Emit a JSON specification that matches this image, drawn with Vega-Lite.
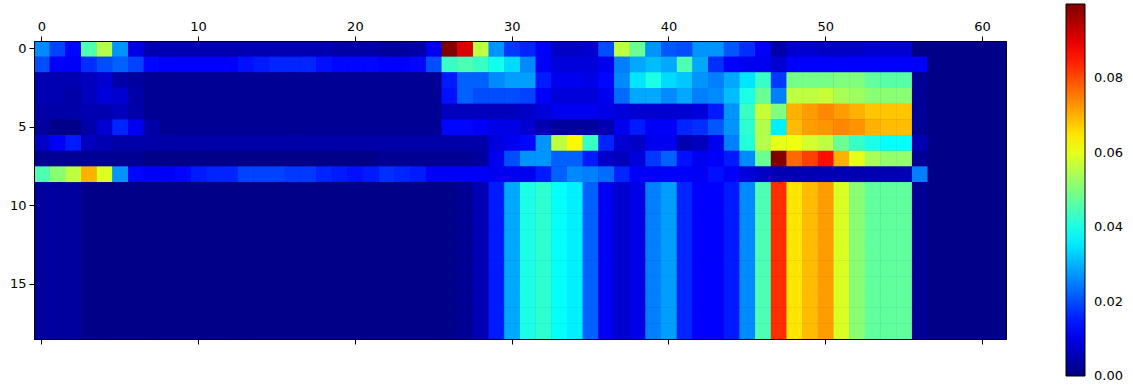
{"$schema":"https://vega.github.io/schema/vega-lite/v6.json","width":972,"height":298,"autosize":{"type":"none"},"padding":{"left":34,"top":41,"right":127,"bottom":46},"background":"white","config":{"view":{"stroke":"black","strokeWidth":1,"fill":"#00007f"},"font":"DejaVu Sans"},
"data":{"values":[
{"c":0,"r":0,"v":0.026},{"c":1,"r":0,"v":0.019},{"c":2,"r":0,"v":0.013},{"c":3,"r":0,"v":0.045},{"c":4,"r":0,"v":0.055},{"c":5,"r":0,"v":0.027},{"c":6,"r":0,"v":0.01},{"c":7,"r":0,"v":0.005},{"c":8,"r":0,"v":0.005},{"c":9,"r":0,"v":0.005},{"c":10,"r":0,"v":0.005},{"c":11,"r":0,"v":0.005},{"c":12,"r":0,"v":0.005},{"c":13,"r":0,"v":0.005},{"c":14,"r":0,"v":0.005},{"c":15,"r":0,"v":0.005},{"c":16,"r":0,"v":0.005},{"c":17,"r":0,"v":0.005},{"c":18,"r":0,"v":0.005},{"c":19,"r":0,"v":0.004},{"c":20,"r":0,"v":0.004},{"c":21,"r":0,"v":0.004},{"c":22,"r":0,"v":0.003},{"c":23,"r":0,"v":0.003},{"c":24,"r":0,"v":0.004},{"c":25,"r":0,"v":0.011},{"c":26,"r":0,"v":0.0995},{"c":27,"r":0,"v":0.091},{"c":28,"r":0,"v":0.056},{"c":29,"r":0,"v":0.027},{"c":30,"r":0,"v":0.018},{"c":31,"r":0,"v":0.016},{"c":32,"r":0,"v":0.012},{"c":33,"r":0,"v":0.007},{"c":34,"r":0,"v":0.007},{"c":35,"r":0,"v":0.008},{"c":36,"r":0,"v":0.02},{"c":37,"r":0,"v":0.056},{"c":38,"r":0,"v":0.048},{"c":39,"r":0,"v":0.027},{"c":40,"r":0,"v":0.021},{"c":41,"r":0,"v":0.02},{"c":42,"r":0,"v":0.027},{"c":43,"r":0,"v":0.027},{"c":44,"r":0,"v":0.021},{"c":45,"r":0,"v":0.017},{"c":46,"r":0,"v":0.012},{"c":47,"r":0,"v":0.004},{"c":48,"r":0,"v":0.008},{"c":49,"r":0,"v":0.008},{"c":50,"r":0,"v":0.007},{"c":51,"r":0,"v":0.007},{"c":52,"r":0,"v":0.007},{"c":53,"r":0,"v":0.008},{"c":54,"r":0,"v":0.008},{"c":55,"r":0,"v":0.008},{"c":56,"r":0,"v":0.001},{"c":57,"r":0,"v":0.001},{"c":58,"r":0,"v":0.001},{"c":59,"r":0,"v":0.001},{"c":60,"r":0,"v":0.001},{"c":61,"r":0,"v":0.001},
{"c":0,"r":1,"v":0.02},{"c":1,"r":1,"v":0.012},{"c":2,"r":1,"v":0.012},{"c":3,"r":1,"v":0.017},{"c":4,"r":1,"v":0.02},{"c":5,"r":1,"v":0.022},{"c":6,"r":1,"v":0.019},{"c":7,"r":1,"v":0.013},{"c":8,"r":1,"v":0.0125},{"c":9,"r":1,"v":0.0125},{"c":10,"r":1,"v":0.0125},{"c":11,"r":1,"v":0.0125},{"c":12,"r":1,"v":0.0125},{"c":13,"r":1,"v":0.014},{"c":14,"r":1,"v":0.015},{"c":15,"r":1,"v":0.016},{"c":16,"r":1,"v":0.016},{"c":17,"r":1,"v":0.016},{"c":18,"r":1,"v":0.014},{"c":19,"r":1,"v":0.013},{"c":20,"r":1,"v":0.013},{"c":21,"r":1,"v":0.013},{"c":22,"r":1,"v":0.0125},{"c":23,"r":1,"v":0.0125},{"c":24,"r":1,"v":0.013},{"c":25,"r":1,"v":0.02},{"c":26,"r":1,"v":0.043},{"c":27,"r":1,"v":0.045},{"c":28,"r":1,"v":0.043},{"c":29,"r":1,"v":0.039},{"c":30,"r":1,"v":0.034},{"c":31,"r":1,"v":0.026},{"c":32,"r":1,"v":0.012},{"c":33,"r":1,"v":0.009},{"c":34,"r":1,"v":0.009},{"c":35,"r":1,"v":0.009},{"c":36,"r":1,"v":0.011},{"c":37,"r":1,"v":0.025},{"c":38,"r":1,"v":0.029},{"c":39,"r":1,"v":0.031},{"c":40,"r":1,"v":0.029},{"c":41,"r":1,"v":0.045},{"c":42,"r":1,"v":0.029},{"c":43,"r":1,"v":0.017},{"c":44,"r":1,"v":0.012},{"c":45,"r":1,"v":0.011},{"c":46,"r":1,"v":0.011},{"c":47,"r":1,"v":0.008},{"c":48,"r":1,"v":0.0125},{"c":49,"r":1,"v":0.0125},{"c":50,"r":1,"v":0.0125},{"c":51,"r":1,"v":0.0125},{"c":52,"r":1,"v":0.0125},{"c":53,"r":1,"v":0.0125},{"c":54,"r":1,"v":0.0125},{"c":55,"r":1,"v":0.0125},{"c":56,"r":1,"v":0.012},{"c":57,"r":1,"v":0.001},{"c":58,"r":1,"v":0.001},{"c":59,"r":1,"v":0.001},{"c":60,"r":1,"v":0.001},{"c":61,"r":1,"v":0.001},
{"c":0,"r":2,"v":0.005},{"c":1,"r":2,"v":0.005},{"c":2,"r":2,"v":0.005},{"c":3,"r":2,"v":0.006},{"c":4,"r":2,"v":0.008},{"c":5,"r":2,"v":0.004},{"c":6,"r":2,"v":0.003},{"c":7,"r":2,"v":0.002},{"c":8,"r":2,"v":0.002},{"c":9,"r":2,"v":0.002},{"c":10,"r":2,"v":0.002},{"c":11,"r":2,"v":0.002},{"c":12,"r":2,"v":0.002},{"c":13,"r":2,"v":0.002},{"c":14,"r":2,"v":0.002},{"c":15,"r":2,"v":0.002},{"c":16,"r":2,"v":0.002},{"c":17,"r":2,"v":0.002},{"c":18,"r":2,"v":0.002},{"c":19,"r":2,"v":0.002},{"c":20,"r":2,"v":0.002},{"c":21,"r":2,"v":0.002},{"c":22,"r":2,"v":0.002},{"c":23,"r":2,"v":0.002},{"c":24,"r":2,"v":0.002},{"c":25,"r":2,"v":0.002},{"c":26,"r":2,"v":0.015},{"c":27,"r":2,"v":0.022},{"c":28,"r":2,"v":0.022},{"c":29,"r":2,"v":0.026},{"c":30,"r":2,"v":0.028},{"c":31,"r":2,"v":0.028},{"c":32,"r":2,"v":0.015},{"c":33,"r":2,"v":0.011},{"c":34,"r":2,"v":0.011},{"c":35,"r":2,"v":0.01},{"c":36,"r":2,"v":0.013},{"c":37,"r":2,"v":0.026},{"c":38,"r":2,"v":0.035},{"c":39,"r":2,"v":0.04},{"c":40,"r":2,"v":0.034},{"c":41,"r":2,"v":0.032},{"c":42,"r":2,"v":0.027},{"c":43,"r":2,"v":0.025},{"c":44,"r":2,"v":0.029},{"c":45,"r":2,"v":0.035},{"c":46,"r":2,"v":0.043},{"c":47,"r":2,"v":0.018},{"c":48,"r":2,"v":0.049},{"c":49,"r":2,"v":0.049},{"c":50,"r":2,"v":0.049},{"c":51,"r":2,"v":0.05},{"c":52,"r":2,"v":0.05},{"c":53,"r":2,"v":0.047},{"c":54,"r":2,"v":0.046},{"c":55,"r":2,"v":0.046},{"c":56,"r":2,"v":0.002},{"c":57,"r":2,"v":0.001},{"c":58,"r":2,"v":0.001},{"c":59,"r":2,"v":0.001},{"c":60,"r":2,"v":0.001},{"c":61,"r":2,"v":0.001},
{"c":0,"r":3,"v":0.005},{"c":1,"r":3,"v":0.005},{"c":2,"r":3,"v":0.004},{"c":3,"r":3,"v":0.006},{"c":4,"r":3,"v":0.009},{"c":5,"r":3,"v":0.008},{"c":6,"r":3,"v":0.004},{"c":7,"r":3,"v":0.002},{"c":8,"r":3,"v":0.002},{"c":9,"r":3,"v":0.002},{"c":10,"r":3,"v":0.002},{"c":11,"r":3,"v":0.002},{"c":12,"r":3,"v":0.002},{"c":13,"r":3,"v":0.002},{"c":14,"r":3,"v":0.002},{"c":15,"r":3,"v":0.002},{"c":16,"r":3,"v":0.002},{"c":17,"r":3,"v":0.002},{"c":18,"r":3,"v":0.002},{"c":19,"r":3,"v":0.002},{"c":20,"r":3,"v":0.002},{"c":21,"r":3,"v":0.002},{"c":22,"r":3,"v":0.002},{"c":23,"r":3,"v":0.002},{"c":24,"r":3,"v":0.002},{"c":25,"r":3,"v":0.002},{"c":26,"r":3,"v":0.014},{"c":27,"r":3,"v":0.022},{"c":28,"r":3,"v":0.02},{"c":29,"r":3,"v":0.02},{"c":30,"r":3,"v":0.02},{"c":31,"r":3,"v":0.019},{"c":32,"r":3,"v":0.012},{"c":33,"r":3,"v":0.009},{"c":34,"r":3,"v":0.009},{"c":35,"r":3,"v":0.009},{"c":36,"r":3,"v":0.011},{"c":37,"r":3,"v":0.023},{"c":38,"r":3,"v":0.029},{"c":39,"r":3,"v":0.029},{"c":40,"r":3,"v":0.026},{"c":41,"r":3,"v":0.029},{"c":42,"r":3,"v":0.025},{"c":43,"r":3,"v":0.026},{"c":44,"r":3,"v":0.031},{"c":45,"r":3,"v":0.04},{"c":46,"r":3,"v":0.048},{"c":47,"r":3,"v":0.025},{"c":48,"r":3,"v":0.056},{"c":49,"r":3,"v":0.056},{"c":50,"r":3,"v":0.057},{"c":51,"r":3,"v":0.054},{"c":52,"r":3,"v":0.053},{"c":53,"r":3,"v":0.051},{"c":54,"r":3,"v":0.051},{"c":55,"r":3,"v":0.051},{"c":56,"r":3,"v":0.002},{"c":57,"r":3,"v":0.001},{"c":58,"r":3,"v":0.001},{"c":59,"r":3,"v":0.001},{"c":60,"r":3,"v":0.001},{"c":61,"r":3,"v":0.001},
{"c":0,"r":4,"v":0.004},{"c":1,"r":4,"v":0.004},{"c":2,"r":4,"v":0.004},{"c":3,"r":4,"v":0.005},{"c":4,"r":4,"v":0.005},{"c":5,"r":4,"v":0.006},{"c":6,"r":4,"v":0.004},{"c":7,"r":4,"v":0.002},{"c":8,"r":4,"v":0.002},{"c":9,"r":4,"v":0.002},{"c":10,"r":4,"v":0.002},{"c":11,"r":4,"v":0.002},{"c":12,"r":4,"v":0.002},{"c":13,"r":4,"v":0.002},{"c":14,"r":4,"v":0.002},{"c":15,"r":4,"v":0.002},{"c":16,"r":4,"v":0.002},{"c":17,"r":4,"v":0.002},{"c":18,"r":4,"v":0.002},{"c":19,"r":4,"v":0.002},{"c":20,"r":4,"v":0.002},{"c":21,"r":4,"v":0.002},{"c":22,"r":4,"v":0.002},{"c":23,"r":4,"v":0.002},{"c":24,"r":4,"v":0.002},{"c":25,"r":4,"v":0.002},{"c":26,"r":4,"v":0.006},{"c":27,"r":4,"v":0.006},{"c":28,"r":4,"v":0.006},{"c":29,"r":4,"v":0.006},{"c":30,"r":4,"v":0.006},{"c":31,"r":4,"v":0.007},{"c":32,"r":4,"v":0.009},{"c":33,"r":4,"v":0.011},{"c":34,"r":4,"v":0.011},{"c":35,"r":4,"v":0.011},{"c":36,"r":4,"v":0.01},{"c":37,"r":4,"v":0.009},{"c":38,"r":4,"v":0.008},{"c":39,"r":4,"v":0.008},{"c":40,"r":4,"v":0.008},{"c":41,"r":4,"v":0.008},{"c":42,"r":4,"v":0.009},{"c":43,"r":4,"v":0.015},{"c":44,"r":4,"v":0.027},{"c":45,"r":4,"v":0.043},{"c":46,"r":4,"v":0.057},{"c":47,"r":4,"v":0.05},{"c":48,"r":4,"v":0.07},{"c":49,"r":4,"v":0.072},{"c":50,"r":4,"v":0.074},{"c":51,"r":4,"v":0.072},{"c":52,"r":4,"v":0.07},{"c":53,"r":4,"v":0.068},{"c":54,"r":4,"v":0.068},{"c":55,"r":4,"v":0.068},{"c":56,"r":4,"v":0.002},{"c":57,"r":4,"v":0.001},{"c":58,"r":4,"v":0.001},{"c":59,"r":4,"v":0.001},{"c":60,"r":4,"v":0.001},{"c":61,"r":4,"v":0.001},
{"c":0,"r":5,"v":0.003},{"c":1,"r":5,"v":0.001},{"c":2,"r":5,"v":0.001},{"c":3,"r":5,"v":0.004},{"c":4,"r":5,"v":0.008},{"c":5,"r":5,"v":0.016},{"c":6,"r":5,"v":0.011},{"c":7,"r":5,"v":0.004},{"c":8,"r":5,"v":0.002},{"c":9,"r":5,"v":0.002},{"c":10,"r":5,"v":0.002},{"c":11,"r":5,"v":0.002},{"c":12,"r":5,"v":0.002},{"c":13,"r":5,"v":0.002},{"c":14,"r":5,"v":0.002},{"c":15,"r":5,"v":0.002},{"c":16,"r":5,"v":0.002},{"c":17,"r":5,"v":0.002},{"c":18,"r":5,"v":0.002},{"c":19,"r":5,"v":0.002},{"c":20,"r":5,"v":0.002},{"c":21,"r":5,"v":0.002},{"c":22,"r":5,"v":0.002},{"c":23,"r":5,"v":0.002},{"c":24,"r":5,"v":0.002},{"c":25,"r":5,"v":0.002},{"c":26,"r":5,"v":0.013},{"c":27,"r":5,"v":0.013},{"c":28,"r":5,"v":0.012},{"c":29,"r":5,"v":0.01},{"c":30,"r":5,"v":0.01},{"c":31,"r":5,"v":0.008},{"c":32,"r":5,"v":0.005},{"c":33,"r":5,"v":0.003},{"c":34,"r":5,"v":0.003},{"c":35,"r":5,"v":0.003},{"c":36,"r":5,"v":0.005},{"c":37,"r":5,"v":0.011},{"c":38,"r":5,"v":0.015},{"c":39,"r":5,"v":0.012},{"c":40,"r":5,"v":0.012},{"c":41,"r":5,"v":0.016},{"c":42,"r":5,"v":0.017},{"c":43,"r":5,"v":0.021},{"c":44,"r":5,"v":0.027},{"c":45,"r":5,"v":0.042},{"c":46,"r":5,"v":0.055},{"c":47,"r":5,"v":0.036},{"c":48,"r":5,"v":0.069},{"c":49,"r":5,"v":0.072},{"c":50,"r":5,"v":0.073},{"c":51,"r":5,"v":0.074},{"c":52,"r":5,"v":0.073},{"c":53,"r":5,"v":0.07},{"c":54,"r":5,"v":0.069},{"c":55,"r":5,"v":0.069},{"c":56,"r":5,"v":0.002},{"c":57,"r":5,"v":0.001},{"c":58,"r":5,"v":0.001},{"c":59,"r":5,"v":0.001},{"c":60,"r":5,"v":0.001},{"c":61,"r":5,"v":0.001},
{"c":0,"r":6,"v":0.007},{"c":1,"r":6,"v":0.012},{"c":2,"r":6,"v":0.015},{"c":3,"r":6,"v":0.006},{"c":4,"r":6,"v":0.005},{"c":5,"r":6,"v":0.004},{"c":6,"r":6,"v":0.004},{"c":7,"r":6,"v":0.004},{"c":8,"r":6,"v":0.004},{"c":9,"r":6,"v":0.004},{"c":10,"r":6,"v":0.004},{"c":11,"r":6,"v":0.004},{"c":12,"r":6,"v":0.004},{"c":13,"r":6,"v":0.004},{"c":14,"r":6,"v":0.004},{"c":15,"r":6,"v":0.004},{"c":16,"r":6,"v":0.004},{"c":17,"r":6,"v":0.004},{"c":18,"r":6,"v":0.004},{"c":19,"r":6,"v":0.004},{"c":20,"r":6,"v":0.004},{"c":21,"r":6,"v":0.004},{"c":22,"r":6,"v":0.004},{"c":23,"r":6,"v":0.004},{"c":24,"r":6,"v":0.004},{"c":25,"r":6,"v":0.004},{"c":26,"r":6,"v":0.004},{"c":27,"r":6,"v":0.004},{"c":28,"r":6,"v":0.004},{"c":29,"r":6,"v":0.009},{"c":30,"r":6,"v":0.011},{"c":31,"r":6,"v":0.013},{"c":32,"r":6,"v":0.027},{"c":33,"r":6,"v":0.056},{"c":34,"r":6,"v":0.063},{"c":35,"r":6,"v":0.043},{"c":36,"r":6,"v":0.016},{"c":37,"r":6,"v":0.008},{"c":38,"r":6,"v":0.007},{"c":39,"r":6,"v":0.011},{"c":40,"r":6,"v":0.011},{"c":41,"r":6,"v":0.005},{"c":42,"r":6,"v":0.006},{"c":43,"r":6,"v":0.011},{"c":44,"r":6,"v":0.025},{"c":45,"r":6,"v":0.041},{"c":46,"r":6,"v":0.055},{"c":47,"r":6,"v":0.06},{"c":48,"r":6,"v":0.061},{"c":49,"r":6,"v":0.058},{"c":50,"r":6,"v":0.056},{"c":51,"r":6,"v":0.048},{"c":52,"r":6,"v":0.043},{"c":53,"r":6,"v":0.04},{"c":54,"r":6,"v":0.038},{"c":55,"r":6,"v":0.038},{"c":56,"r":6,"v":0.005},{"c":57,"r":6,"v":0.001},{"c":58,"r":6,"v":0.001},{"c":59,"r":6,"v":0.001},{"c":60,"r":6,"v":0.001},{"c":61,"r":6,"v":0.001},
{"c":0,"r":7,"v":0.002},{"c":1,"r":7,"v":0.002},{"c":2,"r":7,"v":0.002},{"c":3,"r":7,"v":0.002},{"c":4,"r":7,"v":0.002},{"c":5,"r":7,"v":0.002},{"c":6,"r":7,"v":0.002},{"c":7,"r":7,"v":0.001},{"c":8,"r":7,"v":0.001},{"c":9,"r":7,"v":0.001},{"c":10,"r":7,"v":0.001},{"c":11,"r":7,"v":0.001},{"c":12,"r":7,"v":0.001},{"c":13,"r":7,"v":0.001},{"c":14,"r":7,"v":0.001},{"c":15,"r":7,"v":0.001},{"c":16,"r":7,"v":0.001},{"c":17,"r":7,"v":0.001},{"c":18,"r":7,"v":0.001},{"c":19,"r":7,"v":0.001},{"c":20,"r":7,"v":0.001},{"c":21,"r":7,"v":0.001},{"c":22,"r":7,"v":0.002},{"c":23,"r":7,"v":0.002},{"c":24,"r":7,"v":0.002},{"c":25,"r":7,"v":0.002},{"c":26,"r":7,"v":0.002},{"c":27,"r":7,"v":0.002},{"c":28,"r":7,"v":0.003},{"c":29,"r":7,"v":0.011},{"c":30,"r":7,"v":0.02},{"c":31,"r":7,"v":0.027},{"c":32,"r":7,"v":0.027},{"c":33,"r":7,"v":0.022},{"c":34,"r":7,"v":0.022},{"c":35,"r":7,"v":0.015},{"c":36,"r":7,"v":0.007},{"c":37,"r":7,"v":0.006},{"c":38,"r":7,"v":0.009},{"c":39,"r":7,"v":0.018},{"c":40,"r":7,"v":0.022},{"c":41,"r":7,"v":0.014},{"c":42,"r":7,"v":0.011},{"c":43,"r":7,"v":0.012},{"c":44,"r":7,"v":0.015},{"c":45,"r":7,"v":0.026},{"c":46,"r":7,"v":0.048},{"c":47,"r":7,"v":0.0995},{"c":48,"r":7,"v":0.077},{"c":49,"r":7,"v":0.081},{"c":50,"r":7,"v":0.086},{"c":51,"r":7,"v":0.07},{"c":52,"r":7,"v":0.06},{"c":53,"r":7,"v":0.054},{"c":54,"r":7,"v":0.052},{"c":55,"r":7,"v":0.052},{"c":56,"r":7,"v":0.002},{"c":57,"r":7,"v":0.001},{"c":58,"r":7,"v":0.001},{"c":59,"r":7,"v":0.001},{"c":60,"r":7,"v":0.001},{"c":61,"r":7,"v":0.001},
{"c":0,"r":8,"v":0.045},{"c":1,"r":8,"v":0.051},{"c":2,"r":8,"v":0.056},{"c":3,"r":8,"v":0.07},{"c":4,"r":8,"v":0.059},{"c":5,"r":8,"v":0.027},{"c":6,"r":8,"v":0.013},{"c":7,"r":8,"v":0.012},{"c":8,"r":8,"v":0.012},{"c":9,"r":8,"v":0.013},{"c":10,"r":8,"v":0.015},{"c":11,"r":8,"v":0.016},{"c":12,"r":8,"v":0.016},{"c":13,"r":8,"v":0.019},{"c":14,"r":8,"v":0.019},{"c":15,"r":8,"v":0.019},{"c":16,"r":8,"v":0.018},{"c":17,"r":8,"v":0.018},{"c":18,"r":8,"v":0.016},{"c":19,"r":8,"v":0.015},{"c":20,"r":8,"v":0.014},{"c":21,"r":8,"v":0.015},{"c":22,"r":8,"v":0.017},{"c":23,"r":8,"v":0.016},{"c":24,"r":8,"v":0.015},{"c":25,"r":8,"v":0.012},{"c":26,"r":8,"v":0.012},{"c":27,"r":8,"v":0.012},{"c":28,"r":8,"v":0.012},{"c":29,"r":8,"v":0.011},{"c":30,"r":8,"v":0.011},{"c":31,"r":8,"v":0.011},{"c":32,"r":8,"v":0.015},{"c":33,"r":8,"v":0.022},{"c":34,"r":8,"v":0.026},{"c":35,"r":8,"v":0.025},{"c":36,"r":8,"v":0.023},{"c":37,"r":8,"v":0.016},{"c":38,"r":8,"v":0.012},{"c":39,"r":8,"v":0.012},{"c":40,"r":8,"v":0.012},{"c":41,"r":8,"v":0.012},{"c":42,"r":8,"v":0.012},{"c":43,"r":8,"v":0.014},{"c":44,"r":8,"v":0.012},{"c":45,"r":8,"v":0.009},{"c":46,"r":8,"v":0.007},{"c":47,"r":8,"v":0.005},{"c":48,"r":8,"v":0.005},{"c":49,"r":8,"v":0.005},{"c":50,"r":8,"v":0.005},{"c":51,"r":8,"v":0.005},{"c":52,"r":8,"v":0.005},{"c":53,"r":8,"v":0.005},{"c":54,"r":8,"v":0.005},{"c":55,"r":8,"v":0.005},{"c":56,"r":8,"v":0.025},{"c":57,"r":8,"v":0.001},{"c":58,"r":8,"v":0.001},{"c":59,"r":8,"v":0.001},{"c":60,"r":8,"v":0.001},{"c":61,"r":8,"v":0.001},
{"c":0,"r":9,"v":0.003},{"c":1,"r":9,"v":0.003},{"c":2,"r":9,"v":0.003},{"c":3,"r":9,"v":0.001},{"c":4,"r":9,"v":0.001},{"c":5,"r":9,"v":0.001},{"c":6,"r":9,"v":0.001},{"c":7,"r":9,"v":0.001},{"c":8,"r":9,"v":0.001},{"c":9,"r":9,"v":0.001},{"c":10,"r":9,"v":0.001},{"c":11,"r":9,"v":0.001},{"c":12,"r":9,"v":0.001},{"c":13,"r":9,"v":0.001},{"c":14,"r":9,"v":0.001},{"c":15,"r":9,"v":0.001},{"c":16,"r":9,"v":0.001},{"c":17,"r":9,"v":0.001},{"c":18,"r":9,"v":0.001},{"c":19,"r":9,"v":0.001},{"c":20,"r":9,"v":0.001},{"c":21,"r":9,"v":0.001},{"c":22,"r":9,"v":0.001},{"c":23,"r":9,"v":0.001},{"c":24,"r":9,"v":0.001},{"c":25,"r":9,"v":0.001},{"c":26,"r":9,"v":0.001},{"c":27,"r":9,"v":0.002},{"c":28,"r":9,"v":0.005},{"c":29,"r":9,"v":0.015},{"c":30,"r":9,"v":0.029},{"c":31,"r":9,"v":0.04},{"c":32,"r":9,"v":0.042},{"c":33,"r":9,"v":0.038},{"c":34,"r":9,"v":0.036},{"c":35,"r":9,"v":0.022},{"c":36,"r":9,"v":0.011},{"c":37,"r":9,"v":0.008},{"c":38,"r":9,"v":0.01},{"c":39,"r":9,"v":0.025},{"c":40,"r":9,"v":0.028},{"c":41,"r":9,"v":0.016},{"c":42,"r":9,"v":0.0125},{"c":43,"r":9,"v":0.0125},{"c":44,"r":9,"v":0.015},{"c":45,"r":9,"v":0.026},{"c":46,"r":9,"v":0.045},{"c":47,"r":9,"v":0.083},{"c":48,"r":9,"v":0.065},{"c":49,"r":9,"v":0.069},{"c":50,"r":9,"v":0.072},{"c":51,"r":9,"v":0.059},{"c":52,"r":9,"v":0.051},{"c":53,"r":9,"v":0.047},{"c":54,"r":9,"v":0.047},{"c":55,"r":9,"v":0.047},{"c":56,"r":9,"v":0.002},{"c":57,"r":9,"v":0.001},{"c":58,"r":9,"v":0.001},{"c":59,"r":9,"v":0.001},{"c":60,"r":9,"v":0.001},{"c":61,"r":9,"v":0.001},
{"c":0,"r":10,"v":0.003},{"c":1,"r":10,"v":0.003},{"c":2,"r":10,"v":0.003},{"c":3,"r":10,"v":0.001},{"c":4,"r":10,"v":0.001},{"c":5,"r":10,"v":0.001},{"c":6,"r":10,"v":0.001},{"c":7,"r":10,"v":0.001},{"c":8,"r":10,"v":0.001},{"c":9,"r":10,"v":0.001},{"c":10,"r":10,"v":0.001},{"c":11,"r":10,"v":0.001},{"c":12,"r":10,"v":0.001},{"c":13,"r":10,"v":0.001},{"c":14,"r":10,"v":0.001},{"c":15,"r":10,"v":0.001},{"c":16,"r":10,"v":0.001},{"c":17,"r":10,"v":0.001},{"c":18,"r":10,"v":0.001},{"c":19,"r":10,"v":0.001},{"c":20,"r":10,"v":0.001},{"c":21,"r":10,"v":0.001},{"c":22,"r":10,"v":0.001},{"c":23,"r":10,"v":0.001},{"c":24,"r":10,"v":0.001},{"c":25,"r":10,"v":0.001},{"c":26,"r":10,"v":0.001},{"c":27,"r":10,"v":0.002},{"c":28,"r":10,"v":0.005},{"c":29,"r":10,"v":0.015},{"c":30,"r":10,"v":0.029},{"c":31,"r":10,"v":0.04},{"c":32,"r":10,"v":0.042},{"c":33,"r":10,"v":0.038},{"c":34,"r":10,"v":0.036},{"c":35,"r":10,"v":0.022},{"c":36,"r":10,"v":0.011},{"c":37,"r":10,"v":0.008},{"c":38,"r":10,"v":0.01},{"c":39,"r":10,"v":0.025},{"c":40,"r":10,"v":0.028},{"c":41,"r":10,"v":0.016},{"c":42,"r":10,"v":0.0125},{"c":43,"r":10,"v":0.0125},{"c":44,"r":10,"v":0.015},{"c":45,"r":10,"v":0.026},{"c":46,"r":10,"v":0.045},{"c":47,"r":10,"v":0.083},{"c":48,"r":10,"v":0.065},{"c":49,"r":10,"v":0.069},{"c":50,"r":10,"v":0.072},{"c":51,"r":10,"v":0.059},{"c":52,"r":10,"v":0.051},{"c":53,"r":10,"v":0.047},{"c":54,"r":10,"v":0.047},{"c":55,"r":10,"v":0.047},{"c":56,"r":10,"v":0.002},{"c":57,"r":10,"v":0.001},{"c":58,"r":10,"v":0.001},{"c":59,"r":10,"v":0.001},{"c":60,"r":10,"v":0.001},{"c":61,"r":10,"v":0.001},
{"c":0,"r":11,"v":0.003},{"c":1,"r":11,"v":0.003},{"c":2,"r":11,"v":0.003},{"c":3,"r":11,"v":0.001},{"c":4,"r":11,"v":0.001},{"c":5,"r":11,"v":0.001},{"c":6,"r":11,"v":0.001},{"c":7,"r":11,"v":0.001},{"c":8,"r":11,"v":0.001},{"c":9,"r":11,"v":0.001},{"c":10,"r":11,"v":0.001},{"c":11,"r":11,"v":0.001},{"c":12,"r":11,"v":0.001},{"c":13,"r":11,"v":0.001},{"c":14,"r":11,"v":0.001},{"c":15,"r":11,"v":0.001},{"c":16,"r":11,"v":0.001},{"c":17,"r":11,"v":0.001},{"c":18,"r":11,"v":0.001},{"c":19,"r":11,"v":0.001},{"c":20,"r":11,"v":0.001},{"c":21,"r":11,"v":0.001},{"c":22,"r":11,"v":0.001},{"c":23,"r":11,"v":0.001},{"c":24,"r":11,"v":0.001},{"c":25,"r":11,"v":0.001},{"c":26,"r":11,"v":0.001},{"c":27,"r":11,"v":0.002},{"c":28,"r":11,"v":0.005},{"c":29,"r":11,"v":0.015},{"c":30,"r":11,"v":0.029},{"c":31,"r":11,"v":0.04},{"c":32,"r":11,"v":0.042},{"c":33,"r":11,"v":0.038},{"c":34,"r":11,"v":0.036},{"c":35,"r":11,"v":0.022},{"c":36,"r":11,"v":0.011},{"c":37,"r":11,"v":0.008},{"c":38,"r":11,"v":0.01},{"c":39,"r":11,"v":0.025},{"c":40,"r":11,"v":0.028},{"c":41,"r":11,"v":0.016},{"c":42,"r":11,"v":0.0125},{"c":43,"r":11,"v":0.0125},{"c":44,"r":11,"v":0.015},{"c":45,"r":11,"v":0.026},{"c":46,"r":11,"v":0.045},{"c":47,"r":11,"v":0.083},{"c":48,"r":11,"v":0.065},{"c":49,"r":11,"v":0.069},{"c":50,"r":11,"v":0.072},{"c":51,"r":11,"v":0.059},{"c":52,"r":11,"v":0.051},{"c":53,"r":11,"v":0.047},{"c":54,"r":11,"v":0.047},{"c":55,"r":11,"v":0.047},{"c":56,"r":11,"v":0.002},{"c":57,"r":11,"v":0.001},{"c":58,"r":11,"v":0.001},{"c":59,"r":11,"v":0.001},{"c":60,"r":11,"v":0.001},{"c":61,"r":11,"v":0.001},
{"c":0,"r":12,"v":0.003},{"c":1,"r":12,"v":0.003},{"c":2,"r":12,"v":0.003},{"c":3,"r":12,"v":0.001},{"c":4,"r":12,"v":0.001},{"c":5,"r":12,"v":0.001},{"c":6,"r":12,"v":0.001},{"c":7,"r":12,"v":0.001},{"c":8,"r":12,"v":0.001},{"c":9,"r":12,"v":0.001},{"c":10,"r":12,"v":0.001},{"c":11,"r":12,"v":0.001},{"c":12,"r":12,"v":0.001},{"c":13,"r":12,"v":0.001},{"c":14,"r":12,"v":0.001},{"c":15,"r":12,"v":0.001},{"c":16,"r":12,"v":0.001},{"c":17,"r":12,"v":0.001},{"c":18,"r":12,"v":0.001},{"c":19,"r":12,"v":0.001},{"c":20,"r":12,"v":0.001},{"c":21,"r":12,"v":0.001},{"c":22,"r":12,"v":0.001},{"c":23,"r":12,"v":0.001},{"c":24,"r":12,"v":0.001},{"c":25,"r":12,"v":0.001},{"c":26,"r":12,"v":0.001},{"c":27,"r":12,"v":0.002},{"c":28,"r":12,"v":0.005},{"c":29,"r":12,"v":0.015},{"c":30,"r":12,"v":0.029},{"c":31,"r":12,"v":0.04},{"c":32,"r":12,"v":0.042},{"c":33,"r":12,"v":0.038},{"c":34,"r":12,"v":0.036},{"c":35,"r":12,"v":0.022},{"c":36,"r":12,"v":0.011},{"c":37,"r":12,"v":0.008},{"c":38,"r":12,"v":0.01},{"c":39,"r":12,"v":0.025},{"c":40,"r":12,"v":0.028},{"c":41,"r":12,"v":0.016},{"c":42,"r":12,"v":0.0125},{"c":43,"r":12,"v":0.0125},{"c":44,"r":12,"v":0.015},{"c":45,"r":12,"v":0.026},{"c":46,"r":12,"v":0.045},{"c":47,"r":12,"v":0.083},{"c":48,"r":12,"v":0.065},{"c":49,"r":12,"v":0.069},{"c":50,"r":12,"v":0.072},{"c":51,"r":12,"v":0.059},{"c":52,"r":12,"v":0.051},{"c":53,"r":12,"v":0.047},{"c":54,"r":12,"v":0.047},{"c":55,"r":12,"v":0.047},{"c":56,"r":12,"v":0.002},{"c":57,"r":12,"v":0.001},{"c":58,"r":12,"v":0.001},{"c":59,"r":12,"v":0.001},{"c":60,"r":12,"v":0.001},{"c":61,"r":12,"v":0.001},
{"c":0,"r":13,"v":0.003},{"c":1,"r":13,"v":0.003},{"c":2,"r":13,"v":0.003},{"c":3,"r":13,"v":0.001},{"c":4,"r":13,"v":0.001},{"c":5,"r":13,"v":0.001},{"c":6,"r":13,"v":0.001},{"c":7,"r":13,"v":0.001},{"c":8,"r":13,"v":0.001},{"c":9,"r":13,"v":0.001},{"c":10,"r":13,"v":0.001},{"c":11,"r":13,"v":0.001},{"c":12,"r":13,"v":0.001},{"c":13,"r":13,"v":0.001},{"c":14,"r":13,"v":0.001},{"c":15,"r":13,"v":0.001},{"c":16,"r":13,"v":0.001},{"c":17,"r":13,"v":0.001},{"c":18,"r":13,"v":0.001},{"c":19,"r":13,"v":0.001},{"c":20,"r":13,"v":0.001},{"c":21,"r":13,"v":0.001},{"c":22,"r":13,"v":0.001},{"c":23,"r":13,"v":0.001},{"c":24,"r":13,"v":0.001},{"c":25,"r":13,"v":0.001},{"c":26,"r":13,"v":0.001},{"c":27,"r":13,"v":0.002},{"c":28,"r":13,"v":0.005},{"c":29,"r":13,"v":0.015},{"c":30,"r":13,"v":0.029},{"c":31,"r":13,"v":0.04},{"c":32,"r":13,"v":0.042},{"c":33,"r":13,"v":0.038},{"c":34,"r":13,"v":0.036},{"c":35,"r":13,"v":0.022},{"c":36,"r":13,"v":0.011},{"c":37,"r":13,"v":0.008},{"c":38,"r":13,"v":0.01},{"c":39,"r":13,"v":0.025},{"c":40,"r":13,"v":0.028},{"c":41,"r":13,"v":0.016},{"c":42,"r":13,"v":0.0125},{"c":43,"r":13,"v":0.0125},{"c":44,"r":13,"v":0.015},{"c":45,"r":13,"v":0.026},{"c":46,"r":13,"v":0.045},{"c":47,"r":13,"v":0.083},{"c":48,"r":13,"v":0.065},{"c":49,"r":13,"v":0.069},{"c":50,"r":13,"v":0.072},{"c":51,"r":13,"v":0.059},{"c":52,"r":13,"v":0.051},{"c":53,"r":13,"v":0.047},{"c":54,"r":13,"v":0.047},{"c":55,"r":13,"v":0.047},{"c":56,"r":13,"v":0.002},{"c":57,"r":13,"v":0.001},{"c":58,"r":13,"v":0.001},{"c":59,"r":13,"v":0.001},{"c":60,"r":13,"v":0.001},{"c":61,"r":13,"v":0.001},
{"c":0,"r":14,"v":0.003},{"c":1,"r":14,"v":0.003},{"c":2,"r":14,"v":0.003},{"c":3,"r":14,"v":0.001},{"c":4,"r":14,"v":0.001},{"c":5,"r":14,"v":0.001},{"c":6,"r":14,"v":0.001},{"c":7,"r":14,"v":0.001},{"c":8,"r":14,"v":0.001},{"c":9,"r":14,"v":0.001},{"c":10,"r":14,"v":0.001},{"c":11,"r":14,"v":0.001},{"c":12,"r":14,"v":0.001},{"c":13,"r":14,"v":0.001},{"c":14,"r":14,"v":0.001},{"c":15,"r":14,"v":0.001},{"c":16,"r":14,"v":0.001},{"c":17,"r":14,"v":0.001},{"c":18,"r":14,"v":0.001},{"c":19,"r":14,"v":0.001},{"c":20,"r":14,"v":0.001},{"c":21,"r":14,"v":0.001},{"c":22,"r":14,"v":0.001},{"c":23,"r":14,"v":0.001},{"c":24,"r":14,"v":0.001},{"c":25,"r":14,"v":0.001},{"c":26,"r":14,"v":0.001},{"c":27,"r":14,"v":0.002},{"c":28,"r":14,"v":0.005},{"c":29,"r":14,"v":0.015},{"c":30,"r":14,"v":0.029},{"c":31,"r":14,"v":0.04},{"c":32,"r":14,"v":0.042},{"c":33,"r":14,"v":0.038},{"c":34,"r":14,"v":0.036},{"c":35,"r":14,"v":0.022},{"c":36,"r":14,"v":0.011},{"c":37,"r":14,"v":0.008},{"c":38,"r":14,"v":0.01},{"c":39,"r":14,"v":0.025},{"c":40,"r":14,"v":0.028},{"c":41,"r":14,"v":0.016},{"c":42,"r":14,"v":0.0125},{"c":43,"r":14,"v":0.0125},{"c":44,"r":14,"v":0.015},{"c":45,"r":14,"v":0.026},{"c":46,"r":14,"v":0.045},{"c":47,"r":14,"v":0.083},{"c":48,"r":14,"v":0.065},{"c":49,"r":14,"v":0.069},{"c":50,"r":14,"v":0.072},{"c":51,"r":14,"v":0.059},{"c":52,"r":14,"v":0.051},{"c":53,"r":14,"v":0.047},{"c":54,"r":14,"v":0.047},{"c":55,"r":14,"v":0.047},{"c":56,"r":14,"v":0.002},{"c":57,"r":14,"v":0.001},{"c":58,"r":14,"v":0.001},{"c":59,"r":14,"v":0.001},{"c":60,"r":14,"v":0.001},{"c":61,"r":14,"v":0.001},
{"c":0,"r":15,"v":0.003},{"c":1,"r":15,"v":0.003},{"c":2,"r":15,"v":0.003},{"c":3,"r":15,"v":0.001},{"c":4,"r":15,"v":0.001},{"c":5,"r":15,"v":0.001},{"c":6,"r":15,"v":0.001},{"c":7,"r":15,"v":0.001},{"c":8,"r":15,"v":0.001},{"c":9,"r":15,"v":0.001},{"c":10,"r":15,"v":0.001},{"c":11,"r":15,"v":0.001},{"c":12,"r":15,"v":0.001},{"c":13,"r":15,"v":0.001},{"c":14,"r":15,"v":0.001},{"c":15,"r":15,"v":0.001},{"c":16,"r":15,"v":0.001},{"c":17,"r":15,"v":0.001},{"c":18,"r":15,"v":0.001},{"c":19,"r":15,"v":0.001},{"c":20,"r":15,"v":0.001},{"c":21,"r":15,"v":0.001},{"c":22,"r":15,"v":0.001},{"c":23,"r":15,"v":0.001},{"c":24,"r":15,"v":0.001},{"c":25,"r":15,"v":0.001},{"c":26,"r":15,"v":0.001},{"c":27,"r":15,"v":0.002},{"c":28,"r":15,"v":0.005},{"c":29,"r":15,"v":0.015},{"c":30,"r":15,"v":0.029},{"c":31,"r":15,"v":0.04},{"c":32,"r":15,"v":0.042},{"c":33,"r":15,"v":0.038},{"c":34,"r":15,"v":0.036},{"c":35,"r":15,"v":0.022},{"c":36,"r":15,"v":0.011},{"c":37,"r":15,"v":0.008},{"c":38,"r":15,"v":0.01},{"c":39,"r":15,"v":0.025},{"c":40,"r":15,"v":0.028},{"c":41,"r":15,"v":0.016},{"c":42,"r":15,"v":0.0125},{"c":43,"r":15,"v":0.0125},{"c":44,"r":15,"v":0.015},{"c":45,"r":15,"v":0.026},{"c":46,"r":15,"v":0.045},{"c":47,"r":15,"v":0.083},{"c":48,"r":15,"v":0.065},{"c":49,"r":15,"v":0.069},{"c":50,"r":15,"v":0.072},{"c":51,"r":15,"v":0.059},{"c":52,"r":15,"v":0.051},{"c":53,"r":15,"v":0.047},{"c":54,"r":15,"v":0.047},{"c":55,"r":15,"v":0.047},{"c":56,"r":15,"v":0.002},{"c":57,"r":15,"v":0.001},{"c":58,"r":15,"v":0.001},{"c":59,"r":15,"v":0.001},{"c":60,"r":15,"v":0.001},{"c":61,"r":15,"v":0.001},
{"c":0,"r":16,"v":0.003},{"c":1,"r":16,"v":0.003},{"c":2,"r":16,"v":0.003},{"c":3,"r":16,"v":0.001},{"c":4,"r":16,"v":0.001},{"c":5,"r":16,"v":0.001},{"c":6,"r":16,"v":0.001},{"c":7,"r":16,"v":0.001},{"c":8,"r":16,"v":0.001},{"c":9,"r":16,"v":0.001},{"c":10,"r":16,"v":0.001},{"c":11,"r":16,"v":0.001},{"c":12,"r":16,"v":0.001},{"c":13,"r":16,"v":0.001},{"c":14,"r":16,"v":0.001},{"c":15,"r":16,"v":0.001},{"c":16,"r":16,"v":0.001},{"c":17,"r":16,"v":0.001},{"c":18,"r":16,"v":0.001},{"c":19,"r":16,"v":0.001},{"c":20,"r":16,"v":0.001},{"c":21,"r":16,"v":0.001},{"c":22,"r":16,"v":0.001},{"c":23,"r":16,"v":0.001},{"c":24,"r":16,"v":0.001},{"c":25,"r":16,"v":0.001},{"c":26,"r":16,"v":0.001},{"c":27,"r":16,"v":0.002},{"c":28,"r":16,"v":0.005},{"c":29,"r":16,"v":0.015},{"c":30,"r":16,"v":0.029},{"c":31,"r":16,"v":0.04},{"c":32,"r":16,"v":0.042},{"c":33,"r":16,"v":0.038},{"c":34,"r":16,"v":0.036},{"c":35,"r":16,"v":0.022},{"c":36,"r":16,"v":0.011},{"c":37,"r":16,"v":0.008},{"c":38,"r":16,"v":0.01},{"c":39,"r":16,"v":0.025},{"c":40,"r":16,"v":0.028},{"c":41,"r":16,"v":0.016},{"c":42,"r":16,"v":0.0125},{"c":43,"r":16,"v":0.0125},{"c":44,"r":16,"v":0.015},{"c":45,"r":16,"v":0.026},{"c":46,"r":16,"v":0.045},{"c":47,"r":16,"v":0.083},{"c":48,"r":16,"v":0.065},{"c":49,"r":16,"v":0.069},{"c":50,"r":16,"v":0.072},{"c":51,"r":16,"v":0.059},{"c":52,"r":16,"v":0.051},{"c":53,"r":16,"v":0.047},{"c":54,"r":16,"v":0.047},{"c":55,"r":16,"v":0.047},{"c":56,"r":16,"v":0.002},{"c":57,"r":16,"v":0.001},{"c":58,"r":16,"v":0.001},{"c":59,"r":16,"v":0.001},{"c":60,"r":16,"v":0.001},{"c":61,"r":16,"v":0.001},
{"c":0,"r":17,"v":0.003},{"c":1,"r":17,"v":0.003},{"c":2,"r":17,"v":0.003},{"c":3,"r":17,"v":0.001},{"c":4,"r":17,"v":0.001},{"c":5,"r":17,"v":0.001},{"c":6,"r":17,"v":0.001},{"c":7,"r":17,"v":0.001},{"c":8,"r":17,"v":0.001},{"c":9,"r":17,"v":0.001},{"c":10,"r":17,"v":0.001},{"c":11,"r":17,"v":0.001},{"c":12,"r":17,"v":0.001},{"c":13,"r":17,"v":0.001},{"c":14,"r":17,"v":0.001},{"c":15,"r":17,"v":0.001},{"c":16,"r":17,"v":0.001},{"c":17,"r":17,"v":0.001},{"c":18,"r":17,"v":0.001},{"c":19,"r":17,"v":0.001},{"c":20,"r":17,"v":0.001},{"c":21,"r":17,"v":0.001},{"c":22,"r":17,"v":0.001},{"c":23,"r":17,"v":0.001},{"c":24,"r":17,"v":0.001},{"c":25,"r":17,"v":0.001},{"c":26,"r":17,"v":0.001},{"c":27,"r":17,"v":0.002},{"c":28,"r":17,"v":0.005},{"c":29,"r":17,"v":0.015},{"c":30,"r":17,"v":0.029},{"c":31,"r":17,"v":0.04},{"c":32,"r":17,"v":0.042},{"c":33,"r":17,"v":0.038},{"c":34,"r":17,"v":0.036},{"c":35,"r":17,"v":0.022},{"c":36,"r":17,"v":0.011},{"c":37,"r":17,"v":0.008},{"c":38,"r":17,"v":0.01},{"c":39,"r":17,"v":0.025},{"c":40,"r":17,"v":0.028},{"c":41,"r":17,"v":0.016},{"c":42,"r":17,"v":0.0125},{"c":43,"r":17,"v":0.0125},{"c":44,"r":17,"v":0.015},{"c":45,"r":17,"v":0.026},{"c":46,"r":17,"v":0.045},{"c":47,"r":17,"v":0.083},{"c":48,"r":17,"v":0.065},{"c":49,"r":17,"v":0.069},{"c":50,"r":17,"v":0.072},{"c":51,"r":17,"v":0.059},{"c":52,"r":17,"v":0.051},{"c":53,"r":17,"v":0.047},{"c":54,"r":17,"v":0.047},{"c":55,"r":17,"v":0.047},{"c":56,"r":17,"v":0.002},{"c":57,"r":17,"v":0.001},{"c":58,"r":17,"v":0.001},{"c":59,"r":17,"v":0.001},{"c":60,"r":17,"v":0.001},{"c":61,"r":17,"v":0.001},
{"c":0,"r":18,"v":0.003},{"c":1,"r":18,"v":0.003},{"c":2,"r":18,"v":0.003},{"c":3,"r":18,"v":0.001},{"c":4,"r":18,"v":0.001},{"c":5,"r":18,"v":0.001},{"c":6,"r":18,"v":0.001},{"c":7,"r":18,"v":0.001},{"c":8,"r":18,"v":0.001},{"c":9,"r":18,"v":0.001},{"c":10,"r":18,"v":0.001},{"c":11,"r":18,"v":0.001},{"c":12,"r":18,"v":0.001},{"c":13,"r":18,"v":0.001},{"c":14,"r":18,"v":0.001},{"c":15,"r":18,"v":0.001},{"c":16,"r":18,"v":0.001},{"c":17,"r":18,"v":0.001},{"c":18,"r":18,"v":0.001},{"c":19,"r":18,"v":0.001},{"c":20,"r":18,"v":0.001},{"c":21,"r":18,"v":0.001},{"c":22,"r":18,"v":0.001},{"c":23,"r":18,"v":0.001},{"c":24,"r":18,"v":0.001},{"c":25,"r":18,"v":0.001},{"c":26,"r":18,"v":0.001},{"c":27,"r":18,"v":0.002},{"c":28,"r":18,"v":0.005},{"c":29,"r":18,"v":0.015},{"c":30,"r":18,"v":0.029},{"c":31,"r":18,"v":0.04},{"c":32,"r":18,"v":0.042},{"c":33,"r":18,"v":0.038},{"c":34,"r":18,"v":0.036},{"c":35,"r":18,"v":0.022},{"c":36,"r":18,"v":0.011},{"c":37,"r":18,"v":0.008},{"c":38,"r":18,"v":0.01},{"c":39,"r":18,"v":0.025},{"c":40,"r":18,"v":0.028},{"c":41,"r":18,"v":0.016},{"c":42,"r":18,"v":0.0125},{"c":43,"r":18,"v":0.0125},{"c":44,"r":18,"v":0.015},{"c":45,"r":18,"v":0.026},{"c":46,"r":18,"v":0.045},{"c":47,"r":18,"v":0.083},{"c":48,"r":18,"v":0.065},{"c":49,"r":18,"v":0.069},{"c":50,"r":18,"v":0.072},{"c":51,"r":18,"v":0.059},{"c":52,"r":18,"v":0.051},{"c":53,"r":18,"v":0.047},{"c":54,"r":18,"v":0.047},{"c":55,"r":18,"v":0.047},{"c":56,"r":18,"v":0.002},{"c":57,"r":18,"v":0.001},{"c":58,"r":18,"v":0.001},{"c":59,"r":18,"v":0.001},{"c":60,"r":18,"v":0.001},{"c":61,"r":18,"v":0.001}
]},
"layer":[
{"mark":{"type":"rect"},"encoding":{"x":{"field":"c","type":"ordinal","scale":{"domain":[0,1,2,3,4,5,6,7,8,9,10,11,12,13,14,15,16,17,18,19,20,21,22,23,24,25,26,27,28,29,30,31,32,33,34,35,36,37,38,39,40,41,42,43,44,45,46,47,48,49,50,51,52,53,54,55,56,57,58,59,60,61]},"axis":{"orient":"top","values":[0,10,20,30,40,50,60],"title":null,"labelAngle":0,"labelFontSize":13,"labelColor":"black","labelPadding":3,"tickColor":"black","tickSize":5,"domainColor":"black","zindex":1}},"y":{"field":"r","type":"ordinal","scale":{"domain":[0,1,2,3,4,5,6,7,8,9,10,11,12,13,14,15,16,17,18]},"axis":{"values":[0,5,10,15],"title":null,"labelFontSize":13,"labelColor":"black","labelPadding":3,"tickColor":"black","tickSize":5,"domainColor":"black","labelAngle":0,"zindex":1}},"color":{"field":"v","type":"quantitative","scale":{"domain":[0,0.0999],"interpolate":"rgb","range":["#00007f","#0000ff","#007fff","#00ffff","#7fff7f","#ffff00","#ff7f00","#ff0000","#7f0000"]},"legend":{"orient":"none","legendX":1032,"legendY":-37,"title":null,"gradientLength":372,"gradientThickness":19,"gradientStrokeColor":"black","gradientStrokeWidth":1,"values":[0,0.02,0.04,0.06,0.08],"format":".2f","labelFontSize":13,"labelColor":"black","labelOffset":9,"labelOverlap":false,"encode":{"labels":{"update":{"baseline":{"value":"middle"}}}}}}}},
{"mark":{"type":"rect"},"encoding":{"x":{"field":"c","type":"ordinal","axis":{"orient":"bottom","values":[0,10,20,30,40,50,60],"title":null,"labels":false,"tickColor":"black","tickSize":5,"domainColor":"black","zindex":1}},"y":{"field":"r","type":"ordinal"},"color":{"field":"v","type":"quantitative"}}}
],
"resolve":{"axis":{"x":"independent"}}}
